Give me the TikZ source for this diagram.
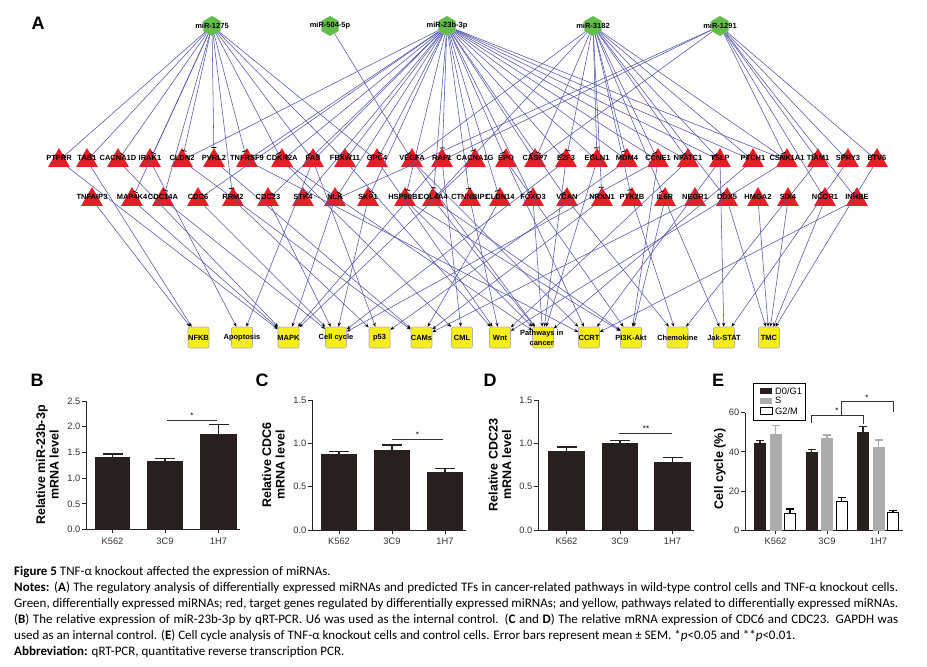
\documentclass[tikz,border=0pt]{standalone}
\usepackage{fontspec}
\setmainfont{Carlito}
\newfontfamily\arialf{Liberation Sans}
\usetikzlibrary{shapes.geometric,arrows.meta}
\definecolor{edgeblue}{RGB}{82,86,172}
\definecolor{mirgreen}{RGB}{98,190,72}
\definecolor{genered}{RGB}{232,30,38}
\definecolor{pathyel}{RGB}{246,236,30}
\definecolor{bardark}{RGB}{40,32,30}
\definecolor{bargray}{RGB}{172,172,172}
\newcommand\mybar[5]{%
  \fill[bardark] (#1,#3) rectangle (#2,#4);
  \draw[bardark,line width=1.6pt] ({(#1+#2)/2},#4) -- ({(#1+#2)/2},#5);
  \draw[bardark,line width=1.4pt] ({(#1+#2)/2-10},#5) -- ({(#1+#2)/2+10},#5);}
\newcommand\mybarE[5]{%
  \draw[#2,line width=1.2pt] (#3,{530-#4*1.955}) -- (#3,{530-#5*1.955})
     ({#3-4},{530-#5*1.955}) -- ({#3+4},{530-#5*1.955});
  \filldraw[fill=#1,draw=#2,line width=1pt] ({#3-5.5},530) rectangle ({#3+5.5},{530-#4*1.955});}
\begin{document}
\begin{tikzpicture}[x=1pt,y=-1pt,
  mir/.style={regular polygon,regular polygon sides=6,shape border rotate=30,minimum size=20pt,inner sep=0pt,fill=mirgreen},
  gene/.style={regular polygon,regular polygon sides=3,minimum size=25pt,inner sep=0pt,fill=genered},
  pbox/.style={rectangle,rounded corners=2pt,minimum width=21pt,minimum height=21pt,inner sep=0pt,fill=pathyel,draw=black!30,line width=0.7pt},
  nlbl/.style={inner sep=0pt,font=\arialf\bfseries\fontsize{7.5}{9.5}\selectfont},
  inh/.style={draw=edgeblue,line width=0.55pt,-{Bar[width=5pt,line width=0.8pt,black]}},
  act/.style={draw=edgeblue,line width=0.55pt,-{Stealth[length=4pt,width=3.2pt,black]}},
  panel/.style={inner sep=0pt,font=\arialf\bfseries\fontsize{18}{20}\selectfont},
  tick/.style={inner sep=0pt,font=\arialf\fontsize{9.3}{10}\selectfont,text=black!80},
  ylab/.style={inner sep=0pt,font=\arialf\bfseries\fontsize{12.5}{13.5}\selectfont,rotate=90,align=center},
  axis/.style={draw=black!85,line width=0.8pt},
  sig/.style={draw=black!80,line width=0.7pt},
  star/.style={inner sep=0pt,font=\arialf\fontsize{8}{9}\selectfont},
  capline/.style={anchor=west,inner sep=0pt,font=\fontsize{13}{16}\selectfont,text height=9pt,text depth=3pt},
]
\fill[white] (0,0) rectangle (927,667);
\useasboundingbox (0,0) rectangle (927,667);

% ---------------- Panel A ----------------
\node[panel] (labA) at (38,23) {A};
\foreach \n/\x in {m1275/212,m504/330,m23b/447,m3182/593,m1291/720}
  \node[mir] (\n) at (\x,26) {};
\foreach \n/\x in {PTPRR/59,TAB1/87,CACNA1D/118,IRAK1/150,CLDN2/182,PVRL2/214,TNFRSF9/247,CDKN2A/282,FAS/313,FBXW11/345,GPC4/377,VEGFA/412,RAF1/442,CACNA1G/475,EPO/506,CASP7/535,E2F3/566,EGLN1/597,MDM4/627,CCNE1/658,NFATC1/688,TSLP/720,PTCH1/753,CSNK1A1/787,TIAM1/818,SPRY3/848,ETV6/877}
  \node[gene] (\n) at (\x,160.5) {};
\foreach \n/\x in {TNFAIP3/92,MAP4K4/132,CDC14A/163,CDC6/198,RRM2/233,CDC23/268,STK4/303,NLK/335,SKP1/368,HSP90B1/405,COL4A4/433,CTNNBIP1/470,CLDN14/500,FOXO3/533,VCAN/567,NRXN1/602,PTK2B/632,IL6R/665,NEGR1/695,DDX5/727,HMGA2/758,SIX4/788,NCOR1/825,INHBE/857}
  \node[gene] (\n) at (\x,199.5) {};
\foreach \n/\x in {pNFKB/198.5,pApop/242,pMAPK/288.5,pCC/336,pP53/379.5,pCAM/421.5,pCML/462,pWnt/500,pPIC/543,pCCRT/589,pPI3K/631,pChem/677.5,pJak/724,pTMC/769}
  \node[pbox] (\n) at (\x,337.5) {};

% gene -> pathway
\foreach \g/\p in {TAB1/pNFKB,TNFAIP3/pNFKB,IRAK1/pApop,FAS/pApop,
  PTPRR/pMAPK,CACNA1D/pMAPK,MAP4K4/pMAPK,NLK/pMAPK,RAF1/pMAPK,CACNA1G/pMAPK,
  CDC14A/pCC,CDC6/pCC,CDC23/pCC,SKP1/pCC,E2F3/pCC,CCNE1/pCC,
  RRM2/pP53,FAS/pP53,MDM4/pP53,
  CLDN2/pCAM,PVRL2/pCAM,CLDN14/pCAM,NRXN1/pCAM,NEGR1/pCAM,
  CDKN2A/pCML,RAF1/pCML,
  FBXW11/pWnt,GPC4/pWnt,CTNNBIP1/pWnt,CSNK1A1/pWnt,NFATC1/pWnt,
  VEGFA/pPIC,E2F3/pPIC,EGLN1/pPIC,CDKN2A/pPIC,HSP90B1/pPIC,COL4A4/pPIC,FOXO3/pPIC,PTCH1/pPIC,
  TNFRSF9/pCCRT,EPO/pCCRT,VEGFA/pCCRT,TSLP/pCCRT,INHBE/pCCRT,
  HSP90B1/pPI3K,COL4A4/pPI3K,EPO/pPI3K,CCNE1/pPI3K,IL6R/pPI3K,
  PTK2B/pChem,TIAM1/pChem,VCAN/pChem,
  TSLP/pJak,IL6R/pJak,SPRY3/pJak,
  ETV6/pTMC,DDX5/pTMC,HMGA2/pTMC,SIX4/pTMC,NCOR1/pTMC}
  \draw[act] (\g) -- (\p);

% miRNA -> gene
\foreach \t in {PTPRR,TAB1,CACNA1D,IRAK1,CLDN2,PVRL2,TNFRSF9,CDKN2A,FAS,FBXW11,GPC4,MAP4K4,CDC14A,RRM2}
  \draw[inh] (m1275) -- (\t);
\draw[inh] (m504) -- (VEGFA);
\foreach \t in {CLDN2,TNFRSF9,CDKN2A,FAS,FBXW11,GPC4,RAF1,CACNA1G,EPO,CASP7,E2F3,EGLN1,MDM4,CCNE1,NFATC1,TSLP,PTCH1,CSNK1A1,CDC6,CDC23,STK4,NLK,SKP1,HSP90B1,COL4A4,CTNNBIP1,CLDN14,FOXO3,VCAN}
  \draw[inh] (m23b) -- (\t);
\foreach \t in {VEGFA,COL4A4,CASP7,E2F3,EGLN1,MDM4,CCNE1,NFATC1,TSLP,PTCH1,CSNK1A1,NRXN1,PTK2B,IL6R,DDX5}
  \draw[inh] (m3182) -- (\t);
\foreach \t in {RAF1,CASP7,NLK,CSNK1A1,TIAM1,SPRY3,ETV6,NCOR1,INHBE}
  \draw[inh] (m1291) -- (\t);

% labels
\foreach \n/\x/\t in {m1275/212/miR-1275,m504/330/miR-504-5p,m23b/447/miR-23b-3p,m3182/593/miR-3182,m1291/720/miR-1291}
  \node[nlbl] (\n-l) at (\x,25.5) {\t};
\foreach \n/\x in {PTPRR/59,TAB1/87,CACNA1D/118,IRAK1/150,CLDN2/182,PVRL2/214,TNFRSF9/247,CDKN2A/282,FAS/313,FBXW11/345,GPC4/377,VEGFA/412,RAF1/442,CACNA1G/475,EPO/506,CASP7/535,E2F3/566,EGLN1/597,MDM4/627,CCNE1/658,NFATC1/688,TSLP/720,PTCH1/753,CSNK1A1/787,TIAM1/818,SPRY3/848,ETV6/877}
  \node[nlbl] (\n-l) at (\x,158) {\n};
\foreach \n/\x in {TNFAIP3/92,MAP4K4/132,CDC14A/163,CDC6/198,RRM2/233,CDC23/268,STK4/303,NLK/335,SKP1/368,HSP90B1/405,COL4A4/433,CTNNBIP1/470,CLDN14/500,FOXO3/533,VCAN/567,NRXN1/602,PTK2B/632,IL6R/665,NEGR1/695,DDX5/727,HMGA2/758,SIX4/788,NCOR1/825,INHBE/857}
  \node[nlbl] (\n-l) at (\x,197) {\n};
\foreach \n/\x/\t in {pNFKB/198.5/NFKB,pApop/242/Apoptosis,pMAPK/288.5/MAPK,pCC/336/Cell cycle,pP53/379.5/p53,pCAM/421.5/CAMs,pCML/462/CML,pWnt/500/Wnt,pCCRT/589/CCRT,pPI3K/631/PI3K-Akt,pChem/677.5/Chemokine,pJak/724/Jak-STAT,pTMC/769/TMC}
  \node[nlbl] (\n-l) at (\x,338) {\t};
\node[nlbl,align=center] (pPIC-l) at (541.7,338) {Pathways in\\cancer};

% ---------------- Panel B ----------------
\node[panel] (labB) at (37,380) {B};
\node[ylab] (ylB) at (47.5,465) {Relative miR-23b-3p\\mRNA level};
\draw[axis] (86,401) -- (86,529.5) -- (240,529.5);
\foreach \y/\t in {529.5/0.0,503.8/0.5,478.1/1.0,452.4/1.5,426.7/2.0,401/2.5}{
  \draw[axis] (82,\y) -- (86,\y);
  \node[tick,anchor=east] at (80.5,\y) {\t};}
\foreach \x/\t in {112.5/K562,165/3C9,218.5/1H7}{
  \draw[axis] (\x,529.5) -- (\x,533);
  \node[tick] at (\x,541) {\t};}
\mybar{95}{130}{529.5}{456.5}{454}
\mybar{147}{183}{529.5}{460.6}{458.6}
\mybar{200}{237}{529.5}{434.4}{424.6}
\draw[sig] (167,420) -- (217,420);
\node[star] (sB) at (192,416) {*};

% ---------------- Panel C ----------------
\node[panel] (labC) at (262,380) {C};
\node[ylab] (ylC) at (273.5,465) {Relative CDC6\\mRNA level};
\draw[axis] (312,400) -- (312,530) -- (466,530);
\foreach \y/\t in {530/0.0,486.65/0.5,443.3/1.0,400/1.5}{
  \draw[axis] (308,\y) -- (312,\y);
  \node[tick,anchor=east] at (306.5,\y) {\t};}
\foreach \x/\t in {339/K562,392/3C9,445/1H7}{
  \draw[axis] (\x,530) -- (\x,533.5);
  \node[tick] at (\x,541) {\t};}
\mybar{321}{357}{530}{453.7}{451.3}
\mybar{374}{410}{530}{450.2}{445}
\mybar{427}{463}{530}{471.9}{468.4}
\draw[sig] (392,439) -- (443,439);
\node[star] (sC) at (417.5,435) {*};

% ---------------- Panel D ----------------
\node[panel] (labD) at (490,380) {D};
\node[ylab] (ylD) at (500,465) {Relative CDC23\\mRNA level};
\draw[axis] (538,400) -- (538,530) -- (694,530);
\foreach \y/\t in {530/0.0,486.65/0.5,443.3/1.0,400/1.5}{
  \draw[axis] (534,\y) -- (538,\y);
  \node[tick,anchor=east] at (532.5,\y) {\t};}
\foreach \x/\t in {566.5/K562,620/3C9,672.5/1H7}{
  \draw[axis] (\x,530) -- (\x,533.5);
  \node[tick] at (\x,541) {\t};}
\mybar{548}{585}{530}{451.1}{446.8}
\mybar{602}{638}{530}{443.3}{440.7}
\mybar{654}{691}{530}{461.5}{457.2}
\draw[sig] (619,433) -- (672,433);
\node[star] (sD) at (646,429) {**};

% ---------------- Panel E ----------------
\node[panel] (labE) at (718,380) {E};
\node[ylab] (ylE) at (720,469) {Cell cycle (\%)};
\draw[axis] (745,412.7) -- (745,530) -- (903,530);
\foreach \y/\t in {530/0,490.9/20,451.8/40,412.7/60}{
  \draw[axis] (741,\y) -- (745,\y);
  \node[tick,anchor=east] at (739.5,\y) {\t};}
\foreach \x/\t in {775.5/K562,827/3C9,878.5/1H7}{
  \draw[axis] (\x,530) -- (\x,533.5);
  \node[tick] at (\x,541) {\t};}
\mybarE{bardark}{bardark}{760}{44.3}{45.8}
\mybarE{bargray}{bargray}{775.5}{49.1}{53.3}
\mybarE{white}{black}{790}{8.2}{10.7}
\mybarE{bardark}{bardark}{811.5}{39.5}{41}
\mybarE{bargray}{bargray}{827}{46.9}{48.6}
\mybarE{white}{black}{841.5}{14.8}{16.5}
\mybarE{bardark}{bardark}{863}{50}{52.8}
\mybarE{bargray}{bargray}{878.5}{42.3}{46}
\mybarE{white}{black}{893}{8.9}{9.9}
\draw[sig] (811.5,423) -- (811.5,415) -- (863,415) -- (863,424);
\node[star] (sE1) at (837,411) {*};
\draw[sig] (841.5,415) -- (841.5,401.7) -- (893,401.7) -- (893,411.7);
\node[star] (sE2) at (867,397.5) {*};
\draw[black,line width=0.8pt] (753,383.3) rectangle (805,420);
\fill[bardark] (760,387.5) rectangle (772,394);
\fill[bargray] (760,397.5) rectangle (772,404);
\draw[black,line width=0.8pt] (760,407.5) rectangle (772,414);
\node[tick,anchor=west,text=black] (lg1) at (775,390.7) {D0/G1};
\node[tick,anchor=west,text=black] (lg2) at (775,400.7) {S};
\node[tick,anchor=west,text=black] (lg3) at (775,410.7) {G2/M};

% ---------------- Caption ----------------
\node[capline] (cap0) at (14,572.5) {\textbf{Figure 5} TNF-α knockout affected the expression of miRNAs.};
\node[capline] (cap1) at (14,588.5) {\hbox to 884pt{\textbf{Notes:} (\textbf{A}) The regulatory analysis of differentially expressed miRNAs and predicted TFs in cancer-related pathways in wild-type control cells and TNF-α knockout cells.}};
\node[capline] (cap2) at (14,604.5) {\hbox to 884pt{Green, differentially expressed miRNAs; red, target genes regulated by differentially expressed miRNAs; and yellow, pathways related to differentially expressed miRNAs.}};
\node[capline] (cap3) at (14,620.5) {\hbox to 884pt{(\textbf{B}) The relative expression of miR-23b-3p by qRT-PCR. U6 was used as the internal control. (\textbf{C} and \textbf{D}) The relative mRNA expression of CDC6 and CDC23. GAPDH was}};
\node[capline] (cap4) at (14,636.7) {used as an internal control. (\textbf{E}) Cell cycle analysis of TNF-α knockout cells and control cells. Error bars represent mean ± SEM. *\textit{p}<0.05 and **\textit{p}<0.01.};
\node[capline] (cap5) at (14,652.7) {\textbf{Abbreviation:} qRT-PCR, quantitative reverse transcription PCR.};
\end{tikzpicture}
\end{document}
